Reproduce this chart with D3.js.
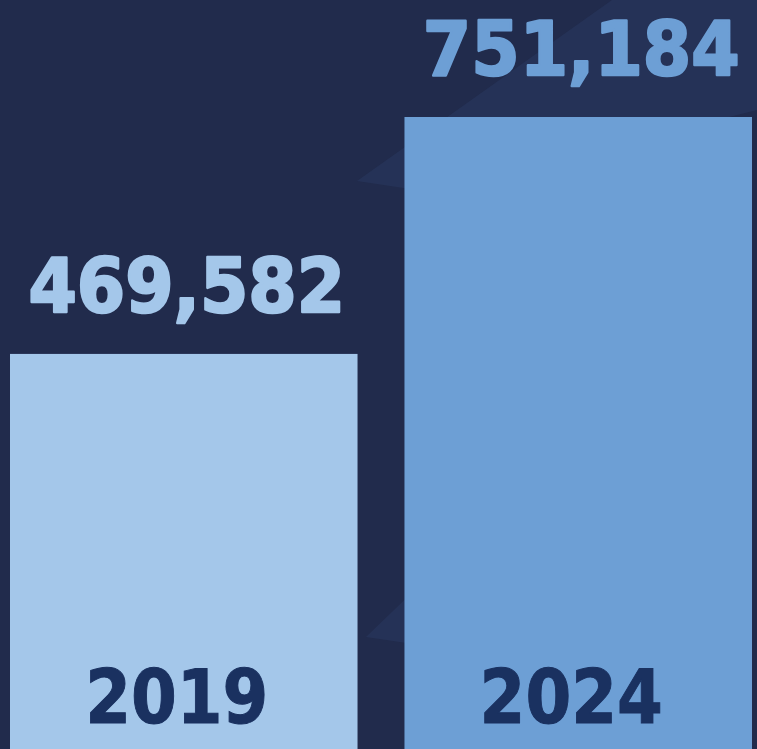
<!DOCTYPE html>
<html>
<head>
<meta charset="utf-8">
<script src="https://cdn.jsdelivr.net/npm/d3@7"></script>
<style>
  html, body { margin: 0; padding: 0; background: #212b4c; }
  svg { display: block; }
</style>
</head>
<body>
<script>
"use strict";

const width = 757;
const height = 749;

const years = ["2019", "2024"];
const values = [469582, 751184];
const valueLabels = ["469,582", "751,184"];
const barColors = ["#a4c7ea", "#6d9fd5"];

const svg = d3
  .select("body")
  .append("svg")
  .attr("width", width)
  .attr("height", height);

svg.append("rect")
  .attr("width", width)
  .attr("height", height)
  .attr("fill", "#212b4c");

// faint diagonal streaks in the background
svg.append("polygon")
  .attr("points", "357,181 612,0 757,0 757,110 430,192")
  .attr("fill", "#2a3a62")
  .attr("opacity", 0.5);
svg.append("polygon")
  .attr("points", "366,637 420,585 420,645")
  .attr("fill", "#2a3a62")
  .attr("opacity", 0.5);

const x = d3.scaleBand()
  .domain(years)
  .range([10, 752])
  .paddingInner(0.119)
  .paddingOuter(0);

const y = d3.scaleLinear()
  .domain([0, 751184])
  .range([height, 117]);

const bars = svg.selectAll(".bar")
  .data(years)
  .enter()
  .append("g")
  .attr("class", "bar");

bars.append("rect")
  .attr("x", d => x(d))
  .attr("y", (d, i) => y(values[i]))
  .attr("width", x.bandwidth())
  .attr("height", (d, i) => y(0) - y(values[i]))
  .attr("fill", (d, i) => barColors[i]);

// value labels above bars (squeezed a bit horizontally)
bars.append("text")
  .text((d, i) => valueLabels[i])
  .attr("transform", (d, i) =>
    "translate(" + (x(d) + x.bandwidth() / 2 + 3) + "," + (y(values[i]) - 42) + ") scale(0.94,1)")
  .attr("text-anchor", "middle")
  .attr("font-family", "DejaVu Sans, sans-serif")
  .attr("font-weight", "bold")
  .attr("font-size", 74)
  .attr("fill", (d, i) => barColors[i])
  .attr("stroke", (d, i) => barColors[i])
  .attr("stroke-width", 2.5)
  .attr("stroke-linejoin", "round");

// year labels inside bars
bars.append("text")
  .text(d => d)
  .attr("transform", d =>
    "translate(" + (x(d) + x.bandwidth() / 2 - 7) + ",723) scale(0.89,1)")
  .attr("text-anchor", "middle")
  .attr("font-family", "DejaVu Sans, sans-serif")
  .attr("font-weight", "bold")
  .attr("font-size", 74)
  .attr("fill", "#1a3160")
  .attr("stroke", "#1a3160")
  .attr("stroke-width", 1);
</script>
</body>
</html>
